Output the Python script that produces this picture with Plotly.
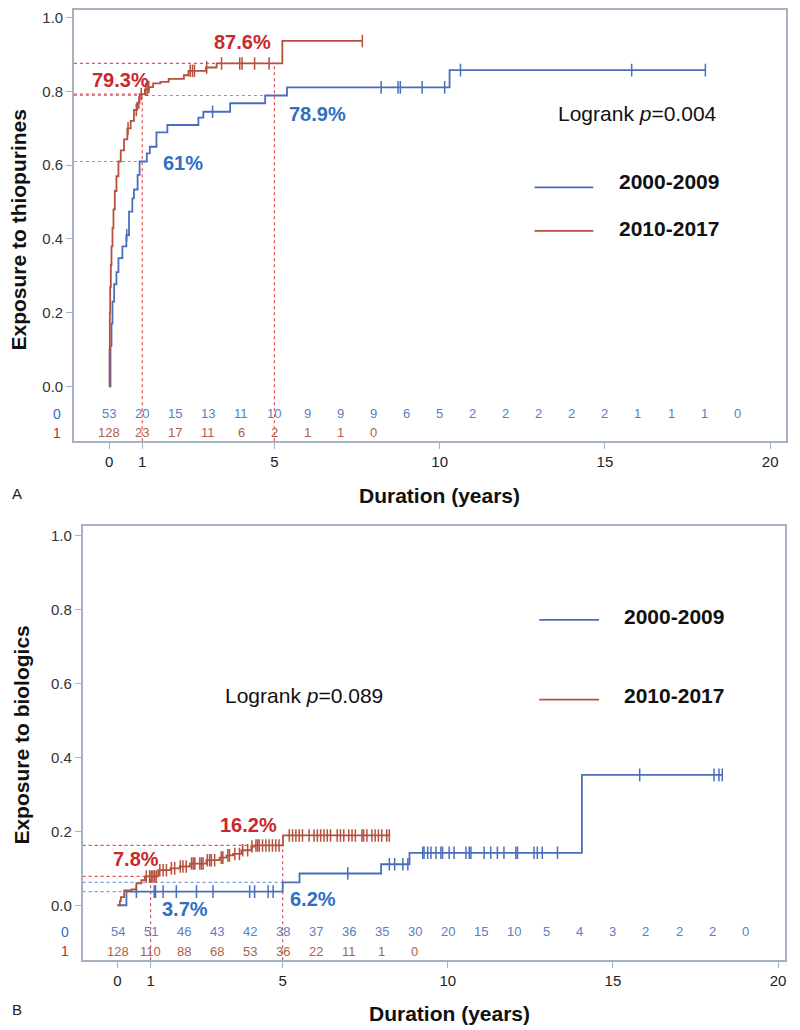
import plotly.graph_objects as go

# ---------------- DATA ----------------
# Panel A: thiopurines (cumulative exposure, step functions)
thio_2000_t = [0, 0.04, 0.07, 0.10, 0.15, 0.22, 0.28, 0.40, 0.52, 0.60, 0.70, 0.75, 0.86, 0.92,
               1.14, 1.23, 1.43, 1.76, 2.70, 2.85, 3.66, 4.72, 5.38, 10.30]
thio_2000_s = [0, 0.11, 0.17, 0.23, 0.277, 0.31, 0.348, 0.38, 0.41, 0.474, 0.51, 0.534, 0.574, 0.61,
               0.632, 0.65, 0.689, 0.709, 0.729, 0.745, 0.768, 0.789, 0.811, 0.858]
thio_2000_end = 18.04
thio_2000_cens = [0.53, 3.13, 8.23, 8.74, 8.81, 9.47, 10.15, 10.63, 15.81, 18.04]

thio_2010_t = [0, 0.01, 0.02, 0.03, 0.05, 0.07, 0.10, 0.13, 0.17, 0.22, 0.28, 0.35, 0.45, 0.55,
               0.65, 0.75, 0.85, 0.92, 1.08, 1.20, 1.33, 1.55, 1.80, 2.26, 2.40, 2.93, 3.25, 5.24]
thio_2010_s = [0, 0.10, 0.20, 0.27, 0.33, 0.38, 0.43, 0.48, 0.53, 0.57, 0.61, 0.64, 0.67, 0.70,
               0.72, 0.75, 0.77, 0.793, 0.805, 0.812, 0.822, 0.826, 0.834, 0.844, 0.856, 0.865, 0.876, 0.937]
thio_2010_end = 7.66
thio_2010_cens = [0.57, 0.82, 0.90, 0.97, 1.10, 1.15, 1.20, 2.45, 2.52, 2.58, 2.95, 3.40, 3.95,
                  4.02, 4.40, 4.84, 7.66]

thio_risk_x = list(range(20))
thio_risk_2000 = [53, 20, 15, 13, 11, 10, 9, 9, 9, 6, 5, 2, 2, 2, 2, 2, 1, 1, 1, 0]
thio_risk_2010 = [128, 23, 17, 11, 6, 2, 1, 1, 0]

# Panel B: biologics
bio_2000_t = [0, 0.27, 5.00, 5.51, 7.98, 8.84, 14.06]
bio_2000_s = [0, 0.037, 0.062, 0.086, 0.111, 0.142, 0.353]
bio_2000_end = 18.31
bio_2000_cens = [0.57, 1.11, 1.15, 1.38, 1.78, 2.39, 2.89, 4.00, 4.15, 4.56, 4.71, 6.97, 8.23, 8.39,
                 8.64, 8.79, 9.24, 9.28, 9.39, 9.49, 9.64, 9.79, 9.84, 10.04, 10.19, 10.55, 10.65,
                 10.70, 11.10, 11.30, 11.50, 11.70, 12.06, 12.11, 12.61, 12.71, 12.86, 13.32,
                 15.81, 18.06, 18.21, 18.31]

bio_2010_t = [0, 0.07, 0.10, 0.20, 0.42, 0.57, 0.72, 0.83, 1.23, 1.60, 1.88, 2.19, 2.69, 3.09,
              3.30, 3.50, 3.75, 4.05, 4.15, 5.01]
bio_2010_s = [0, 0.011, 0.022, 0.040, 0.043, 0.059, 0.068, 0.078, 0.095, 0.100, 0.105, 0.113,
              0.122, 0.129, 0.135, 0.139, 0.149, 0.159, 0.162, 0.189]
bio_2010_end = 8.23
bio_2010_cens = [0.87, 0.97, 1.02, 1.07, 1.12, 1.17, 1.28, 1.38, 1.48, 1.63, 1.73, 1.90, 1.98,
                 2.08, 2.24, 2.29, 2.34, 2.49, 2.54, 2.59, 2.72, 2.79, 2.84, 2.94, 3.14, 3.19,
                 3.34, 3.39, 3.55, 3.69, 3.79, 3.94, 4.07, 4.19, 4.24, 4.29, 4.39, 4.49, 4.59,
                 4.69, 4.79, 4.89, 5.20, 5.30, 5.40, 5.50, 5.60, 5.80, 5.95, 6.05, 6.15, 6.25,
                 6.35, 6.45, 6.65, 6.75, 6.85, 7.00, 7.10, 7.20, 7.40, 7.45, 7.55, 7.70, 7.80,
                 7.90, 8.00, 8.15, 8.23]

bio_risk_x = list(range(20))
bio_risk_2000 = [54, 51, 46, 43, 42, 38, 37, 36, 35, 30, 20, 15, 10, 5, 4, 3, 2, 2, 2, 0]
bio_risk_2010 = [128, 110, 88, 68, 53, 36, 22, 11, 1, 0]

# Landmark estimates (time, value, label)
thio_marks_2000 = [(1, 0.61, "61%"), (5, 0.789, "78.9%")]
thio_marks_2010 = [(1, 0.793, "79.3%"), (5, 0.876, "87.6%")]
bio_marks_2000 = [(1, 0.037, "3.7%"), (5, 0.062, "6.2%")]
bio_marks_2010 = [(1, 0.078, "7.8%"), (5, 0.162, "16.2%")]

group_names = ["2000-2009", "2010-2017"]
x_ticks = [0, 1, 5, 10, 15, 20]
y_ticks = [0.0, 0.2, 0.4, 0.6, 0.8, 1.0]

# ---------------- STYLE ----------------
FONT = "Liberation Sans, Arial, sans-serif"
BLUE = "#4A6EBE"
RED = "#B5503C"
BLUE_TXT = "#2F70C4"
RED_TXT = "#C9282C"
BLUE_RISK = "#5C7DC2"
RED_RISK = "#B0604E"
FRAME = "#A4B2C2"
RED_DOT = "#E2504E"
BLUE_DOT = "#6F9FE2"

OFF = 8            # default page body margin
FW, FH = 800 - OFF, 1030 - OFF


def px_x(px):
    return min(1.0, max(0.0, (px - OFF) / FW))


def px_y(py):
    return min(1.0, max(0.0, 1 - (py - OFF) / FH))


def step_val(ts, ss, x):
    v = ss[0]
    for t, s in zip(ts, ss):
        if t <= x:
            v = s
    return v


fig = go.Figure()

panels = [
    dict(xa="x", ya="y", xd=[px_x(74), px_x(787)], yd=[px_y(440), px_y(8)],
         xr=[-1.067, 20.48], yr=[-0.1486, 1.021],
         c2000=(thio_2000_t, thio_2000_s, thio_2000_end, thio_2000_cens),
         c2010=(thio_2010_t, thio_2010_s, thio_2010_end, thio_2010_cens),
         rx=thio_risk_x, r2000=thio_risk_2000, r2010=thio_risk_2010,
         m2000=thio_marks_2000, m2010=thio_marks_2010,
         ytitle="Exposure to thiopurines", ytitle_x=19, ytitle_y=228,
         xtitle_x=440, xtitle_y=494, letter="A", letter_y=492,
         rowlab_x=57, risk_y=(-0.074, -0.126),
         logrank=("Logrank <i>p</i>=0.004", 15.98, 0.74),
         leg_line=(12.87, 14.65), leg_text_x=15.38, leg_y=((0.540, 0.556), (0.422, 0.429)),
         lab2000=[(2.23, 0.607), (6.31, 0.74)], lab2010=[(0.33, 0.832), (4.04, 0.934)]),
    dict(xa="x2", ya="y2", xd=[px_x(82.7), px_x(786)], yd=[px_y(960), px_y(525)],
         xr=[-1.058, 20.21], yr=[-0.1486, 1.027],
         c2000=(bio_2000_t, bio_2000_s, bio_2000_end, bio_2000_cens),
         c2010=(bio_2010_t, bio_2010_s, bio_2010_end, bio_2010_cens),
         rx=bio_risk_x, r2000=bio_risk_2000, r2010=bio_risk_2010,
         m2000=bio_marks_2000, m2010=bio_marks_2010,
         ytitle="Exposure to biologics", ytitle_x=22, ytitle_y=734,
         xtitle_x=450, xtitle_y=1013, letter="B", letter_y=1009,
         rowlab_x=65, risk_y=(-0.072, -0.124),
         logrank=("Logrank <i>p</i>=0.089", 5.66, 0.568),
         leg_line=(12.77, 14.58), leg_text_x=15.28, leg_y=((0.773, 0.781), (0.557, 0.568)),
         lab2000=[(2.04, -0.009), (5.92, 0.018)], lab2010=[(0.57, 0.126), (3.95, 0.216)]),
]

annotations = []
shapes = []
layout_axes = {}


def ann(**kw):
    d = dict(showarrow=False, xanchor="center", yanchor="middle")
    d.update(kw)
    annotations.append(d)


for i, p in enumerate(panels):
    xa, ya = p["xa"], p["ya"]
    sfx = "" if i == 0 else str(i + 1)
    layout_axes["xaxis" + sfx] = dict(
        domain=p["xd"], range=p["xr"], anchor=ya, tickmode="array", tickvals=x_ticks,
        ticktext=[str(v) for v in x_ticks], ticks="outside", ticklen=6, tickwidth=1.3,
        tickcolor=FRAME, showline=True, linecolor=FRAME, linewidth=1.5, mirror=True,
        showgrid=False, zeroline=False, tickfont=dict(family=FONT, size=15, color="#222"))
    layout_axes["yaxis" + sfx] = dict(
        domain=p["yd"], range=p["yr"], anchor=xa, tickmode="array", tickvals=y_ticks,
        ticktext=["%.1f" % v for v in y_ticks], ticks="outside", ticklen=6, tickwidth=1.3,
        tickcolor=FRAME, showline=True, linecolor=FRAME, linewidth=1.5, mirror=True,
        showgrid=False, zeroline=False, tickfont=dict(family=FONT, size=15, color="#333"))

    x_left, y_bot = p["xr"][0], p["yr"][0]

    # reference dotted lines
    for (tm, val, _), col in [(m, BLUE_DOT) for m in p["m2000"]] + [(m, RED_DOT) for m in p["m2010"]]:
        shapes.append(dict(type="line", xref=xa, yref=ya, x0=x_left, x1=tm, y0=val, y1=val,
                           line=dict(color=col, width=1.2, dash="dot"), layer="below"))
    for tm, val, _ in p["m2010"]:
        shapes.append(dict(type="line", xref=xa, yref=ya, x0=tm, x1=tm, y0=y_bot, y1=val,
                           line=dict(color=RED_DOT, width=1.2, dash="dot"), layer="below"))

    # curves
    for key, col, name in [("c2000", BLUE, group_names[0]), ("c2010", RED, group_names[1])]:
        ts, ss, end, cens = p[key]
        fig.add_trace(go.Scatter(x=ts + [end], y=ss + [ss[-1]], mode="lines",
                                 line=dict(color=col, width=1.8, shape="hv"),
                                 xaxis=xa, yaxis=ya, showlegend=False, name=name))
        fig.add_trace(go.Scatter(x=cens, y=[step_val(ts, ss, c) for c in cens], mode="markers",
                                 marker=dict(symbol="line-ns", size=9,
                                             line=dict(color=col, width=1.5)),
                                 xaxis=xa, yaxis=ya, showlegend=False, hoverinfo="skip"))

    # landmark labels
    for (tm, val, lab), (lx, ly) in zip(p["m2000"], p["lab2000"]):
        ann(x=lx, y=ly, xref=xa, yref=ya, text="<b>%s</b>" % lab,
            font=dict(family=FONT, size=20, color=BLUE_TXT))
    for (tm, val, lab), (lx, ly) in zip(p["m2010"], p["lab2010"]):
        ann(x=lx, y=ly, xref=xa, yref=ya, text="<b>%s</b>" % lab,
            font=dict(family=FONT, size=20, color=RED_TXT))

    # number at risk
    for xv, n in zip(p["rx"], p["r2000"]):
        ann(x=xv, y=p["risk_y"][0], xref=xa, yref=ya, text=str(n),
            font=dict(family=FONT, size=13, color=BLUE_RISK))
    for xv, n in zip(p["rx"], p["r2010"]):
        ann(x=xv, y=p["risk_y"][1], xref=xa, yref=ya, text=str(n),
            font=dict(family=FONT, size=13, color=RED_RISK))
    ann(x=px_x(p["rowlab_x"]), y=p["risk_y"][0], xref="paper", yref=ya, text="0",
        font=dict(family=FONT, size=14, color=BLUE_TXT))
    ann(x=px_x(p["rowlab_x"]), y=p["risk_y"][1], xref="paper", yref=ya, text="1",
        font=dict(family=FONT, size=14, color=RED_TXT))

    # logrank
    txt, lx, ly = p["logrank"]
    ann(x=lx, y=ly, xref=xa, yref=ya, text=txt, font=dict(family=FONT, size=21, color="#111"))

    # legend
    for (line_y, text_y), col, name in zip(p["leg_y"], [BLUE, RED], group_names):
        shapes.append(dict(type="line", xref=xa, yref=ya, x0=p["leg_line"][0], x1=p["leg_line"][1],
                           y0=line_y, y1=line_y, line=dict(color=col, width=1.8)))
        ann(x=p["leg_text_x"], y=text_y, xref=xa, yref=ya, xanchor="left",
            text="<b>%s</b>" % name, font=dict(family=FONT, size=21, color="#111"))

    # axis titles and panel letter
    ann(x=px_x(p["ytitle_x"]), y=px_y(p["ytitle_y"]), xref="paper", yref="paper",
        text="<b>%s</b>" % p["ytitle"], textangle=-90,
        font=dict(family=FONT, size=21, color="#111"))
    ann(x=px_x(p["xtitle_x"]), y=px_y(p["xtitle_y"]), xref="paper", yref="paper",
        text="<b>Duration (years)</b>", font=dict(family=FONT, size=21, color="#111"))
    ann(x=0.002, y=px_y(p["letter_y"]), xref="paper", yref="paper", text=p["letter"],
        xanchor="left", font=dict(family=FONT, size=15, color="#222"))

fig.update_layout(width=FW, height=FH, margin=dict(l=0, r=0, t=0, b=0),
                  paper_bgcolor="white", plot_bgcolor="white", showlegend=False,
                  annotations=annotations, shapes=shapes, **layout_axes)

fig.write_html("out.html")
